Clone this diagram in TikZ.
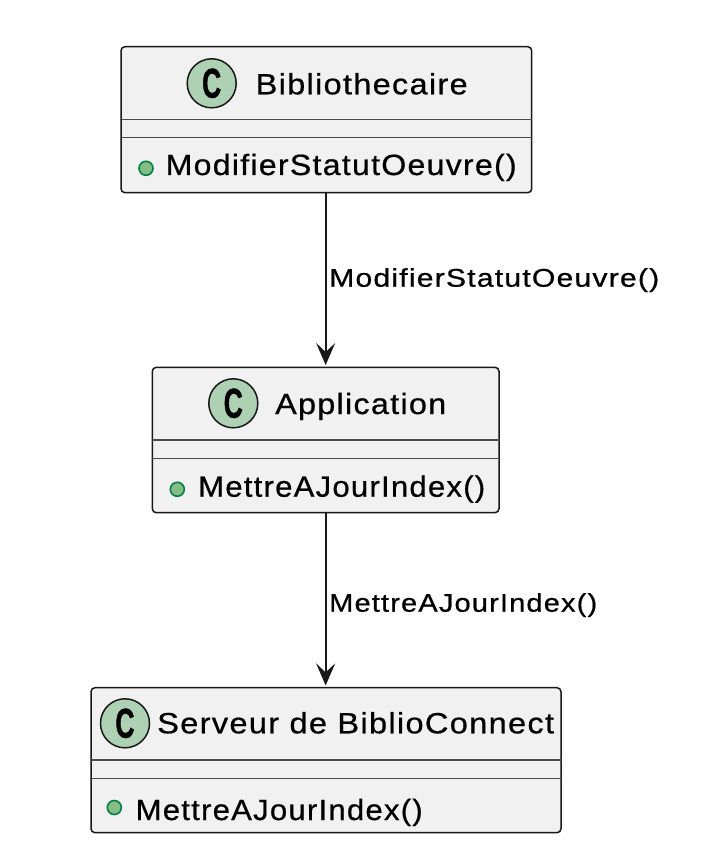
\documentclass[tikz,border=0pt]{standalone}
\usepackage{fontspec}
\usepackage{graphicx}
\usetikzlibrary{arrows.meta}
\newfontfamily\umlfont{Liberation Sans}[LetterSpace=4,FakeBold=0.6]
\newfontfamily\umlbold{Liberation Sans}[FakeBold=1.5]
\definecolor{boxfill}{HTML}{F1F1F1}
\definecolor{boxline}{HTML}{181818}
\definecolor{sepline}{HTML}{4A4A4A}
\definecolor{cfill}{HTML}{ADD1B2}
\definecolor{dotfill}{HTML}{84BE84}
\definecolor{dotline}{HTML}{038048}
\newcommand\fitw[2]{\resizebox{#1pt}{\height}{#2}}
\tikzset{
  classbox/.style={draw=boxline, fill=boxfill, line width=1.5pt, rounded corners=4pt, inner sep=0pt, rectangle},
  sepl/.style={draw=sepline, line width=1.3pt},
  cmark/.style={circle, draw=boxline, fill=cfill, line width=1.5pt, minimum size=49pt, inner sep=0pt},
  pubdot/.style={circle, draw=dotline, fill=dotfill, line width=1.6pt, minimum size=14pt, inner sep=0pt},
  ctext/.style={anchor=base west, inner sep=0pt, font=\umlfont\fontsize{29.3}{34}\selectfont},
  ltext/.style={anchor=base west, inner sep=0pt, font=\umlfont\fontsize{25.6}{30}\selectfont},
  arr/.style={draw=boxline, line width=2pt, -{Stealth[length=22pt, width=19pt, inset=9pt]}, shorten >=1.5pt},
}
\newcommand\bigC{\resizebox{19pt}{29pt}{\umlbold\bfseries C}}
\begin{document}
\begin{tikzpicture}[x=1pt,y=-1pt]
\useasboundingbox[fill=white] (0,0) rectangle (702,864);
% Box 1
\node[classbox, minimum width=410.7pt, minimum height=146pt] (b1) at (326.35,119.7) {};
\draw[sepl] (b1.west |- 0,119.3) -- (b1.east |- 0,119.3);
\draw[sepl] (b1.west |- 0,137.3) -- (b1.east |- 0,137.3);
\node[cmark] (c1) at (211.7,83.3) {};
\node[anchor=center, inner sep=0pt] (c1t) at (c1.center) {\bigC};
\node[ctext] (t1) at (255.5,94.3) {\fitw{212}{Bibliothecaire}};
\node[pubdot] (d1) at (146,168.3) {};
\node[ctext] (m1) at (165.5,175) {\fitw{351}{ModifierStatutOeuvre()}};
% Box 2
\node[classbox, minimum width=346.7pt, minimum height=145.4pt] (b2) at (325.65,440) {};
\draw[sepl] (b2.west |- 0,440) -- (b2.east |- 0,440);
\draw[sepl] (b2.west |- 0,458.3) -- (b2.east |- 0,458.3);
\node[cmark] (c2) at (233.3,403.3) {};
\node[anchor=center, inner sep=0pt] (c2t) at (c2.center) {\bigC};
\node[ctext] (t2) at (275,414) {\fitw{171}{Application}};
\node[pubdot] (d2) at (177.3,489.3) {};
\node[ctext] (m2) at (198,496.7) {\fitw{287}{MettreAJourIndex()}};
% Box 3
\node[classbox, minimum width=470pt, minimum height=145pt] (b3) at (326,760.2) {};
\draw[sepl] (b3.west |- 0,760) -- (b3.east |- 0,760);
\draw[sepl] (b3.west |- 0,778.3) -- (b3.east |- 0,778.3);
\node[cmark] (c3) at (125,723.3) {};
\node[anchor=center, inner sep=0pt] (c3t) at (c3.center) {\bigC};
\node[ctext] (t3) at (157,733.3) {\fitw{397}{Serveur de BiblioConnect}};
\node[pubdot] (d3) at (114.3,807.5) {};
\node[ctext] (m3) at (135.5,820) {\fitw{287}{MettreAJourIndex()}};
% Arrows
\draw[arr] (b2.north |- b1.south) -- (b2.north);
\draw[arr] (b2.south) -- (b2.south |- b3.north);
% Labels
\node[ltext] (l1) at (329,286.7) {\fitw{330}{ModifierStatutOeuvre()}};
\node[ltext] (l2) at (329,611.7) {\fitw{268}{MettreAJourIndex()}};
\end{tikzpicture}
\end{document}
